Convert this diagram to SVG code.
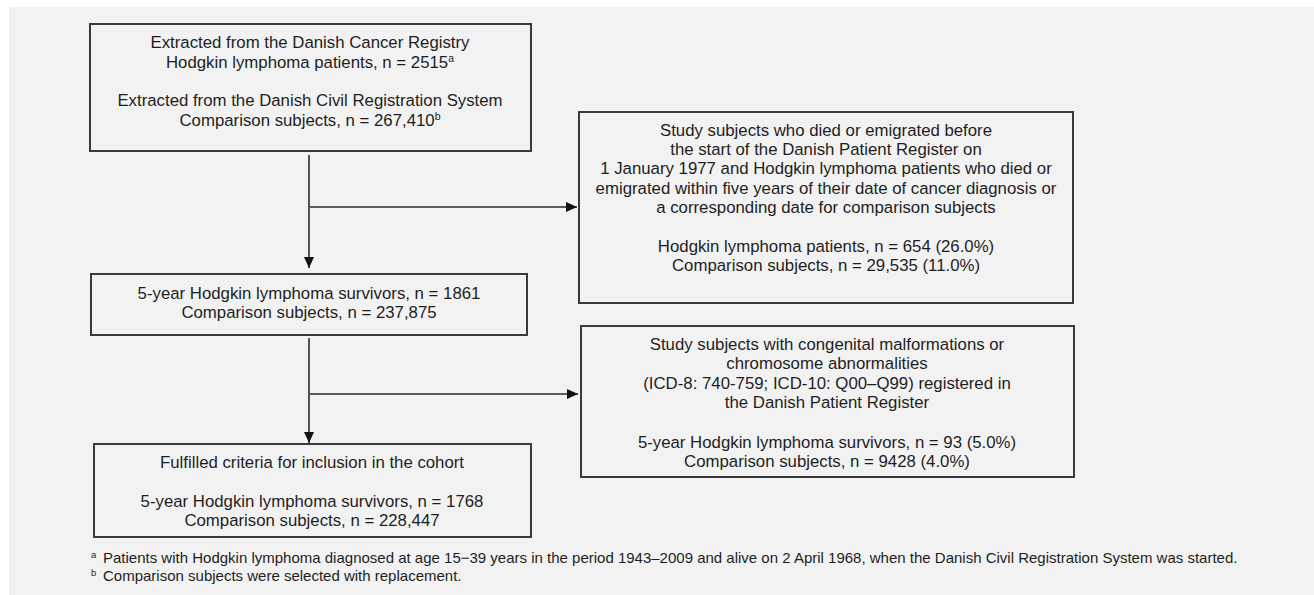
<svg xmlns="http://www.w3.org/2000/svg" width="1314" height="595" viewBox="0 0 1314 595">
<style>
.box{fill:none;stroke:#3a3a3a;stroke-width:2}
.t{font-family:"Liberation Sans",Arial,sans-serif;font-size:16.8px;fill:#1e1e1e;text-anchor:middle}
.fn{font-family:"Liberation Sans",Arial,sans-serif;font-size:15px;fill:#1e1e1e}
.sup{font-size:10.5px}
.fsup{font-family:"Liberation Sans",Arial,sans-serif;font-size:9.5px;fill:#1e1e1e}
.c{fill:none;stroke:#2a2a2a;stroke-width:1.6}
</style>
<defs>
<marker id="ah" markerWidth="11" markerHeight="10" refX="11" refY="5" orient="auto" markerUnits="userSpaceOnUse">
<path d="M0,0 L11,5 L0,10 z" fill="#111"/>
</marker>
</defs>
<rect x="0" y="0" width="1314" height="595" fill="#ffffff"/>
<rect x="9" y="7" width="1305" height="588" fill="#f2f2f2"/>
<g id="n1">
<rect class="box" x="90" y="24" width="441" height="127"/>
<text class="t" x="310" y="48">Extracted from the Danish Cancer Registry</text>
<text class="t" x="310" y="68">Hodgkin lymphoma patients, n = 2515<tspan class="sup" dy="-6">a</tspan></text>
<text class="t" x="310" y="106">Extracted from the Danish Civil Registration System</text>
<text class="t" x="310" y="126">Comparison subjects, n = 267,410<tspan class="sup" dy="-6">b</tspan></text>
</g>
<g id="n2">
<rect class="box" x="579" y="112" width="494" height="191"/>
<text class="t" x="826" y="136">Study subjects who died or emigrated before</text>
<text class="t" x="826" y="155">the start of the Danish Patient Register on</text>
<text class="t" x="826" y="174">1 January 1977 and Hodgkin lymphoma patients who died or</text>
<text class="t" x="826" y="194">emigrated within five years of their date of cancer diagnosis or</text>
<text class="t" x="826" y="213">a corresponding date for comparison subjects</text>
<text class="t" x="826" y="252">Hodgkin lymphoma patients, n = 654 (26.0%)</text>
<text class="t" x="826" y="271">Comparison subjects, n = 29,535 (11.0%)</text>
</g>
<g id="n3">
<rect class="box" x="91" y="274" width="436" height="61"/>
<text class="t" x="309" y="299">5-year Hodgkin lymphoma survivors, n = 1861</text>
<text class="t" x="309" y="318">Comparison subjects, n = 237,875</text>
</g>
<g id="n4">
<rect class="box" x="94" y="444" width="437" height="93"/>
<text class="t" x="312" y="468">Fulfilled criteria for inclusion in the cohort</text>
<text class="t" x="312" y="507">5-year Hodgkin lymphoma survivors, n = 1768</text>
<text class="t" x="312" y="526">Comparison subjects, n = 228,447</text>
</g>
<g id="n5">
<rect class="box" x="581" y="326" width="493" height="151"/>
<text class="t" x="827" y="350">Study subjects with congenital malformations or</text>
<text class="t" x="827" y="369">chromosome abnormalities</text>
<text class="t" x="827" y="389">(ICD-8: 740-759; ICD-10: Q00–Q99) registered in</text>
<text class="t" x="827" y="408">the Danish Patient Register</text>
<text class="t" x="827" y="448">5-year Hodgkin lymphoma survivors, n = 93 (5.0%)</text>
<text class="t" x="827" y="467">Comparison subjects, n = 9428 (4.0%)</text>
</g>
<g id="connectors">
<line class="c" x1="309" y1="155" x2="309" y2="268" marker-end="url(#ah)"/>
<line class="c" x1="310" y1="207" x2="577" y2="207" marker-end="url(#ah)"/>
<line class="c" x1="309" y1="338" x2="309" y2="443" marker-end="url(#ah)"/>
<line class="c" x1="310" y1="394" x2="578" y2="394" marker-end="url(#ah)"/>
</g>
<g id="footnotes">
<text class="fsup" x="91" y="558">a</text>
<text class="fn" x="103" y="563">Patients with Hodgkin lymphoma diagnosed at age 15−39 years in the period 1943–2009 and alive on 2 April 1968, when the Danish Civil Registration System was started.</text>
<text class="fsup" x="91" y="576">b</text>
<text class="fn" x="103" y="581">Comparison subjects were selected with replacement.</text>
</g>
</svg>
